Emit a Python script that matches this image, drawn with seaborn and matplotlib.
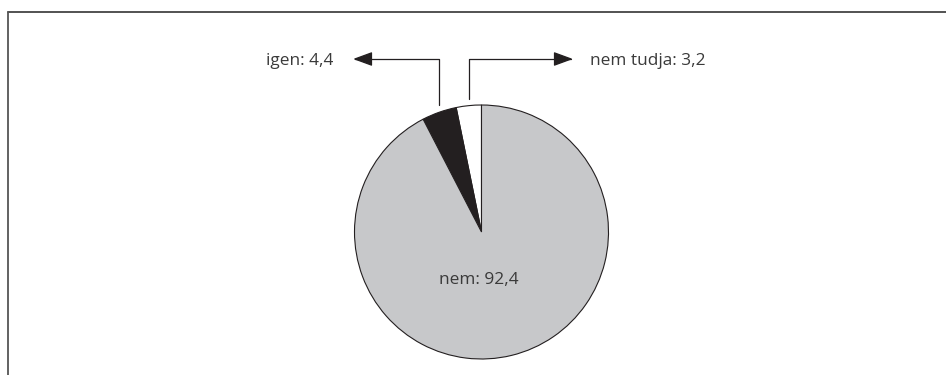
import numpy as np
import matplotlib
matplotlib.use("Agg")
import matplotlib.pyplot as plt
from matplotlib.lines import Line2D
import seaborn as sns

# Survey answer shares (percent), drawn counter-clockwise from 12 o'clock
labels = ["nem tudja", "igen", "nem"]
shares = [3.2, 4.4, 92.4]
colors = ["#ffffff", "#231f20", "#c7c8ca"]

sns.set_theme(style="white")
plt.rcParams["font.family"] = ["Open Sans", "DejaVu Sans"]

W, H = 946, 375
fig = plt.figure(figsize=(W / 100, H / 100), dpi=100)
fig.patch.set_facecolor("white")
ax = fig.add_axes([0, 0, 1, 1])

center = (481.5, H - 232.0)
radius = 127.0

wedges, _ = ax.pie(
    shares, colors=colors, startangle=90, counterclock=True,
    center=center, radius=radius,
    wedgeprops=dict(edgecolor="#231f20", linewidth=0.8),
)
ax.set_xlim(0, W)
ax.set_ylim(0, H)
ax.set_aspect("equal")
ax.axis("off")

text_kw = dict(fontsize=12.4, color="#3a3a3a")

# Label inside the large slice
ax.text(center[0] - 3, center[1] - 48, f"{labels[2]}: {shares[2]:.1f}".replace(".", ","),
        ha="center", va="center", **text_kw)

# Elbow arrows from the two small slices to their labels
arrow_y = H - 59
gap = 7
tips = {0: 573, 1: 353}
for i in (0, 1):
    w = wedges[i]
    mid = np.deg2rad((w.theta1 + w.theta2) / 2)
    x0 = center[0] + radius * np.cos(mid)
    y0 = center[1] + radius * np.sin(mid) + gap
    ax.annotate(
        "", xy=(tips[i], arrow_y), xytext=(x0, y0),
        arrowprops=dict(
            arrowstyle="-|>,head_length=0.6,head_width=0.22",
            mutation_scale=20, color="#231f20", lw=0.9,
            shrinkA=0, shrinkB=0,
            connectionstyle="angle,angleA=90,angleB=0,rad=0",
        ),
    )
    txt = f"{labels[i]}: {shares[i]:.1f}".replace(".", ",")
    if i == 0:
        ax.text(tips[i] + 17, arrow_y - 2, txt, ha="left", va="center", **text_kw)
    else:
        ax.text(tips[i] - 20, arrow_y - 2, txt, ha="right", va="center", **text_kw)

# Frame: top rule and left rule
fig.add_artist(Line2D([8 / W, 1], [1 - 12 / H, 1 - 12 / H], transform=fig.transFigure,
                      color="#444444", lw=1.3))
fig.add_artist(Line2D([8 / W, 8 / W], [0, 1 - 12 / H], transform=fig.transFigure,
                      color="#555555", lw=1.3))

fig.savefig("out.png", dpi=100, facecolor="white")
